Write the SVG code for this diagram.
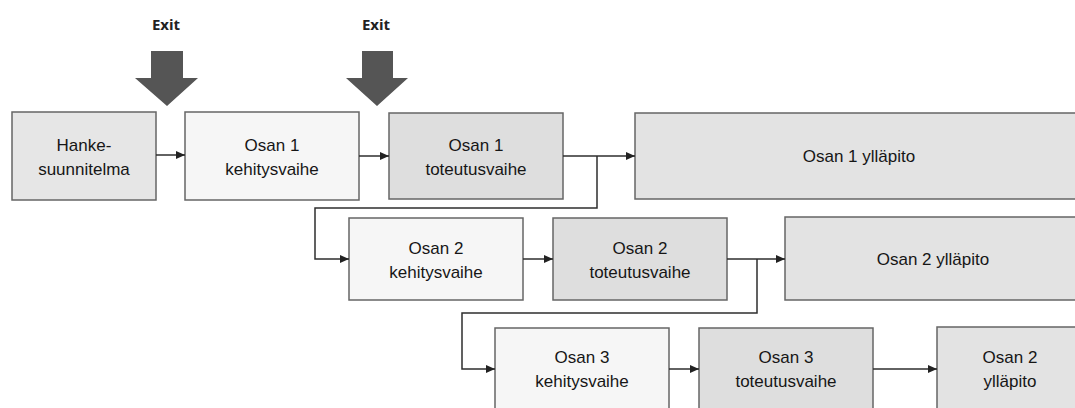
<svg xmlns="http://www.w3.org/2000/svg" width="1075" height="408" viewBox="0 0 1075 408">
  <defs>
    <style>
      .box { stroke: #666666; stroke-width: 1.5; }
      .plan { fill: #e6e6e6; }
      .dev { fill: #f6f6f6; }
      .impl { fill: #dedede; }
      .maint { fill: #e3e3e3; }
      .lbl { font-family: "Liberation Sans", Arial, sans-serif; font-size: 17px; fill: #161616; text-anchor: middle; }
      .exit-lbl { font-family: "Open Sans", "Liberation Sans", sans-serif; font-weight: 700; font-size: 15px; fill: #222222; text-anchor: middle; }
      .exit-arrow { fill: #555555; }
      .conn { fill: none; stroke: #2e2e2e; stroke-width: 1.5; marker-end: url(#head); }
    </style>
    <marker id="head" viewBox="0 0 10 10" refX="10" refY="5" markerWidth="9" markerHeight="8" markerUnits="userSpaceOnUse" orient="auto" preserveAspectRatio="none">
      <path d="M0,0 L10,5 L0,10 Z" fill="#222222"/>
    </marker>
  </defs>

  <rect width="1075" height="408" fill="#ffffff"/>

  <!-- exit gates -->
  <g id="exit1">
    <text class="exit-lbl" x="166" y="30">Exit</text>
    <polygon class="exit-arrow" points="151,51 183,51 183,78 198,78 167,106 135,78 151,78"/>
  </g>
  <g id="exit2">
    <text class="exit-lbl" x="376" y="30">Exit</text>
    <polygon class="exit-arrow" points="362,51 393,51 393,78 408,78 377,106 346,78 362,78"/>
  </g>

  <!-- row 1 -->
  <g id="hankesuunnitelma">
    <rect class="box plan" x="12" y="112" width="144" height="88"/>
    <text class="lbl" x="84" y="151">Hanke-</text>
    <text class="lbl" x="84" y="175">suunnitelma</text>
  </g>
  <g id="osa1-kehitys">
    <rect class="box dev" x="185" y="112" width="174" height="88"/>
    <text class="lbl" x="272" y="151">Osan 1</text>
    <text class="lbl" x="272" y="175">kehitysvaihe</text>
  </g>
  <g id="osa1-toteutus">
    <rect class="box impl" x="389" y="113" width="174" height="86"/>
    <text class="lbl" x="476" y="151">Osan 1</text>
    <text class="lbl" x="476" y="175">toteutusvaihe</text>
  </g>
  <g id="osa1-yllapito">
    <rect class="box maint" x="635" y="113" width="450" height="86"/>
    <text class="lbl" x="859" y="162">Osan 1 ylläpito</text>
  </g>

  <!-- row 2 -->
  <g id="osa2-kehitys">
    <rect class="box dev" x="349" y="218" width="174" height="82"/>
    <text class="lbl" x="436" y="254">Osan 2</text>
    <text class="lbl" x="436" y="278">kehitysvaihe</text>
  </g>
  <g id="osa2-toteutus">
    <rect class="box impl" x="553" y="218" width="174" height="82"/>
    <text class="lbl" x="640" y="254">Osan 2</text>
    <text class="lbl" x="640" y="278">toteutusvaihe</text>
  </g>
  <g id="osa2-yllapito">
    <rect class="box maint" x="785" y="217" width="300" height="83"/>
    <text class="lbl" x="933" y="265">Osan 2 ylläpito</text>
  </g>

  <!-- row 3 -->
  <g id="osa3-kehitys">
    <rect class="box dev" x="495" y="328" width="174" height="84"/>
    <text class="lbl" x="582" y="363">Osan 3</text>
    <text class="lbl" x="582" y="387">kehitysvaihe</text>
  </g>
  <g id="osa3-toteutus">
    <rect class="box impl" x="699" y="328" width="174" height="84"/>
    <text class="lbl" x="786" y="363">Osan 3</text>
    <text class="lbl" x="786" y="387">toteutusvaihe</text>
  </g>
  <g id="osa3-yllapito">
    <rect class="box maint" x="937" y="327" width="150" height="85"/>
    <text class="lbl" x="1010" y="363">Osan 2</text>
    <text class="lbl" x="1010" y="387">ylläpito</text>
  </g>

  <!-- connectors -->
  <g id="connectors">
    <path class="conn" d="M156,155 H185"/>
    <path class="conn" d="M359,156 H389"/>
    <path class="conn" d="M563,156 H635"/>
    <path class="conn" d="M597,156 V208 H315 V259 H349"/>
    <path class="conn" d="M523,259 H553"/>
    <path class="conn" d="M727,259 H785"/>
    <path class="conn" d="M757,259 V313 H462 V369 H495"/>
    <path class="conn" d="M669,369 H699"/>
    <path class="conn" d="M873,369 H937"/>
  </g>
</svg>
